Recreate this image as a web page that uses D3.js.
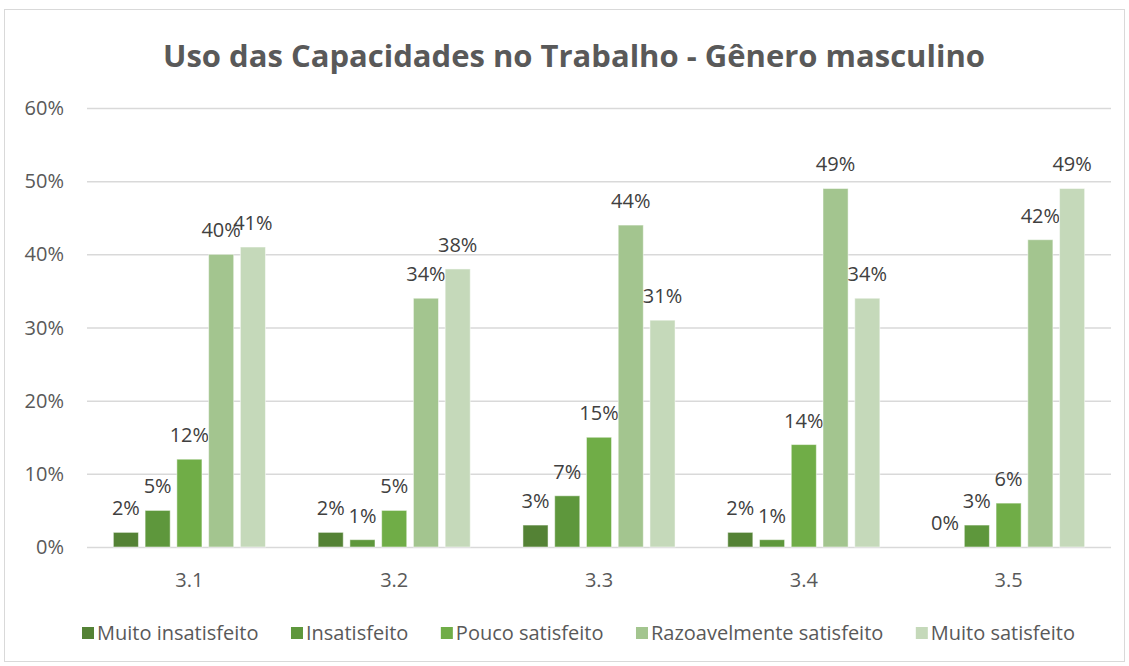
<!DOCTYPE html>
<html>
<head>
<meta charset="utf-8">
<script src="https://cdn.jsdelivr.net/npm/d3@7"></script>
<style>
  body { margin: 0; background: #fff; }
  svg text { font-family: "Open Sans", "Liberation Sans", sans-serif; }
</style>
</head>
<body>
<svg id="chart" width="1129" height="666"></svg>
<script>
const categories = ['3.1', '3.2', '3.3', '3.4', '3.5'];
const seriesNames = ['Muito insatisfeito', 'Insatisfeito', 'Pouco satisfeito', 'Razoavelmente satisfeito', 'Muito satisfeito'];
const muitoInsatisfeito = [2, 2, 3, 2, 0];
const insatisfeito = [5, 1, 7, 1, 3];
const poucoSatisfeito = [12, 5, 15, 14, 6];
const razoavelmenteSatisfeito = [40, 34, 44, 49, 42];
const muitoSatisfeito = [41, 38, 31, 34, 49];
const yTicks = [0, 10, 20, 30, 40, 50, 60];
const colors = ['#548235', '#5e973c', '#70ad47', '#a3c58f', '#c5d9ba'];

const series = [muitoInsatisfeito, insatisfeito, poucoSatisfeito, razoavelmenteSatisfeito, muitoSatisfeito];

const svg = d3.select('#chart');

// outer frame
svg.append('rect')
    .attr('x', 4.5).attr('y', 9.5)
    .attr('width', 1120).attr('height', 652)
    .attr('fill', '#fff')
    .attr('stroke', '#d9d9d9');

// title
svg.append('text')
    .attr('x', 574).attr('y', 67)
    .attr('text-anchor', 'middle')
    .attr('font-size', 30)
    .attr('font-weight', 'bold')
    .attr('fill', '#595959')
    .attr('textLength', 822)
    .attr('lengthAdjust', 'spacingAndGlyphs')
    .text('Uso das Capacidades no Trabalho - Gênero masculino');

const plot = { left: 87, right: 1111, top: 108, bottom: 547 };

const x0 = d3.scaleBand()
    .domain(categories)
    .range([plot.left, plot.right]);

const x1 = d3.scaleBand()
    .domain(d3.range(seriesNames.length))
    .range([0, x0.bandwidth()])
    .paddingInner(0.21)
    .paddingOuter(0.83);

const y = d3.scaleLinear()
    .domain([0, 60])
    .range([plot.bottom, plot.top]);

// gridlines
svg.append('g')
    .selectAll('line')
    .data(yTicks)
    .join('line')
    .attr('x1', plot.left).attr('x2', plot.right)
    .attr('y1', d => y(d) + 0.5).attr('y2', d => y(d) + 0.5)
    .attr('stroke', '#d9d9d9')
    .attr('stroke-width', 1.5);

// y tick labels
svg.append('g')
    .selectAll('text')
    .data(yTicks)
    .join('text')
    .attr('x', 64).attr('y', d => y(d) + 7)
    .attr('text-anchor', 'end')
    .attr('font-size', 20)
    .attr('fill', '#595959')
    .text(d => d + '%');

// x category labels
svg.append('g')
    .selectAll('text')
    .data(categories)
    .join('text')
    .attr('x', d => x0(d) + x0.bandwidth() / 2)
    .attr('y', 587)
    .attr('text-anchor', 'middle')
    .attr('font-size', 20)
    .attr('fill', '#595959')
    .text(d => d);

// bars
const groups = svg.append('g')
    .selectAll('g')
    .data(categories)
    .join('g')
    .attr('transform', d => `translate(${x0(d)},0)`);

const cells = groups.selectAll('g')
    .data((cat, ci) => series.map((vals, si) => ({ si, value: vals[ci] })))
    .join('g');

cells.append('rect')
    .attr('x', d => x1(d.si))
    .attr('y', d => y(d.value))
    .attr('width', x1.bandwidth())
    .attr('height', d => y(0) - y(d.value))
    .attr('fill', d => colors[d.si])
    .attr('stroke', '#fff')
    .attr('stroke-opacity', 0.5)
    .attr('stroke-width', 1);

cells.append('text')
    .attr('x', d => x1(d.si) + x1.bandwidth() / 2)
    .attr('y', d => y(d.value) - 17)
    .attr('text-anchor', 'middle')
    .attr('font-size', 20)
    .attr('fill', '#404040')
    .text(d => d.value + '%');

// legend, spread to span the same width as the plot labels
const legend = svg.append('g');
const items = legend.selectAll('g')
    .data(seriesNames)
    .join('g');

items.append('rect')
    .attr('width', 12).attr('height', 12)
    .attr('y', -13)
    .attr('fill', (d, i) => colors[i]);

items.append('text')
    .attr('x', 15)
    .attr('font-size', 20)
    .attr('fill', '#595959')
    .text(d => d);

const legendLeft = 82, legendRight = 1075;
const widths = [];
items.each(function() {
    widths.push(15 + d3.select(this).select('text').node().getComputedTextLength());
});
const gap = (legendRight - legendLeft - d3.sum(widths)) / (widths.length - 1);
let offset = legendLeft;
const positions = widths.map(w => { const p = offset; offset += w + gap; return p; });
items.attr('transform', (d, i) => `translate(${positions[i]},640)`);
</script>
</body>
</html>
